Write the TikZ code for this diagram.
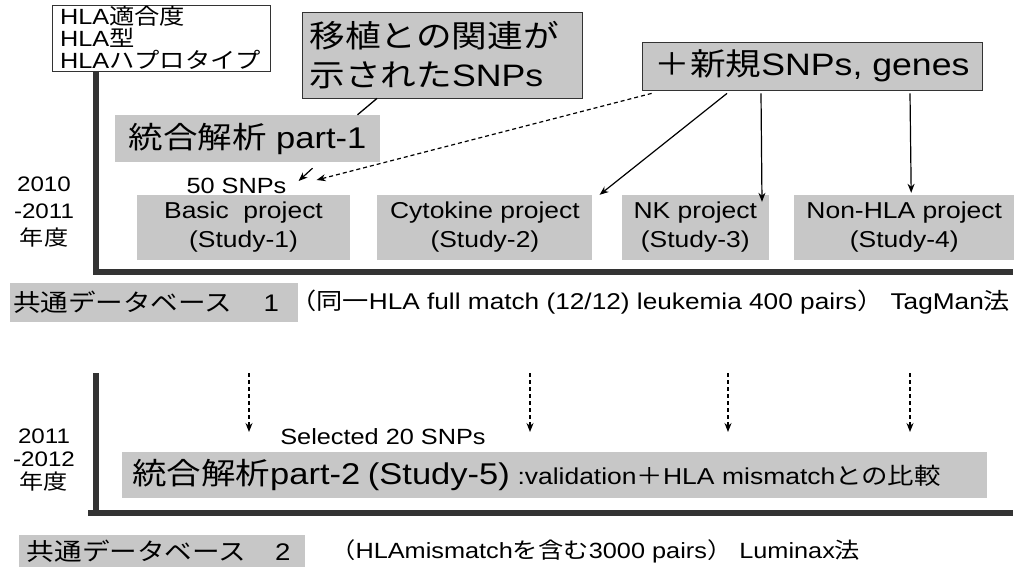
\documentclass[tikz,border=0pt]{standalone}
\usepackage{fontspec}
\setmainfont{Liberation Sans}[FakeStretch=1.15]
\newfontfamily\jp{Noto Sans CJK JP}[FakeStretch=1.15]
\usetikzlibrary{arrows.meta, positioning}

\begin{document}
\begin{tikzpicture}[x=1pt, y=-1pt,
    graybox/.style={rectangle, fill=black!22, inner sep=4pt, align=center},
    framed/.style={graybox, draw=black!80, thick},
    project/.style={graybox, minimum width=213pt, minimum height=65pt, font=\fontsize{23}{29}\selectfont},
    plain/.style={inner sep=0pt, font=\fontsize{22}{26}\selectfont},
    years/.style={inner sep=0pt, align=center, font=\fontsize{21}{27}\selectfont},
    bar/.style={line width=6pt, black!80},
    arrow/.style={-{Stealth[length=9pt,width=7pt]}, line width=1.2pt},
    dasharrow/.style={arrow, dash pattern=on 4pt off 3pt}
]
\useasboundingbox (0,0) rectangle (1028,567);

% Kopf
\node[draw=black!80, thick, fill=white, minimum width=218pt, minimum height=66pt, text width=202pt, align=left, inner sep=0pt, font=\fontsize{22}{22}\selectfont] (hla) at (161,38) {HLA{\jp 適合度}\\HLA{\jp 型}\\HLA{\jp ハプロタイプ}};
\node[framed, minimum width=280pt, minimum height=86pt, text width=265pt, align=left, inner sep=0pt, font=\fontsize{31}{39}\selectfont] (linked) at (442,55) {{\jp 移植との関連が}\\{\jp 示された}SNPs};
\node[framed, minimum width=340pt, minimum height=48pt, font=\fontsize{31}{36}\selectfont] (newsnp) at (812,66) {{\jp ＋新規}SNPs, genes};

% 2010-2011
\node[graybox, minimum width=265pt, minimum height=47pt, font=\fontsize{30}{36}\selectfont] (part1) at (247.5,138.5) {{\jp 統合解析} part-1};
\node[plain] (snp50) at (236.5,186) {50 SNPs};
\node[project] (basic) at (243.5,227.5) {Basic\ \ project\\(Study-1)};
\node[project, minimum width=215pt, right=27pt of basic] (cyto) {Cytokine project\\(Study-2)};
\node[project, minimum width=147pt, right=29pt of cyto] (nk) {NK project\\(Study-3)};
\node[project, minimum width=220pt, right=25pt of nk] (nonhla) {Non-HLA project\\(Study-4)};
\node[years] (yr1) at (44,212.5) {2010\\-2011\\{\jp 年度}};

\draw[bar] (96,71) -- (96,272) -- (1013,272);

\draw[line width=1.3pt] ([xshift=-65pt]linked.south) -- ([xshift=110pt]part1.north);
\draw[arrow] ([xshift=65pt,yshift=-6pt]part1.south) -- ([xshift=12pt,yshift=5pt]snp50.east);
\draw[dasharrow] ([xshift=10pt,yshift=-3pt]newsnp.south west) -- ([xshift=30pt,yshift=6pt]snp50.east);
\draw[arrow] ([xshift=-85pt,yshift=-3pt]newsnp.south) -- ([xshift=7pt]cyto.north east);
\draw[arrow] ([xshift=-51pt,yshift=-3pt]newsnp.south) -- ([xshift=-7pt,yshift=-7pt]nk.north east);
\draw[arrow] ([xshift=98pt,yshift=-3pt]newsnp.south) -- ([xshift=7pt,yshift=2pt]nonhla.north);

% Datenbank 1
\node[graybox, minimum width=288pt, minimum height=39pt, text width=282pt, align=left, inner sep=0pt, font=\fontsize{24}{28}\selectfont] (db1) at (154,302.5) {{\jp 共通データベース}\hspace{1.3em}1};
\node[plain, anchor=west, font=\fontsize{22.8}{26}\selectfont] (db1info) at (290,302.5) {{\jp （同一}HLA full match (12/12) leukemia 400 pairs{\jp ）} TagMan{\jp 法}};

% 2011-2012
\foreach \x [count=\i] in {249,530,728,910} {
  \coordinate (top\i) at (\x,373);
  \coordinate (tip\i) at (\x,432);
  \draw[dasharrow] (top\i) -- (tip\i);
}
\node[plain] (sel20) at (383,437) {Selected 20 SNPs};
\node[graybox, anchor=west, minimum width=865pt, minimum height=46pt, text width=845pt, align=left, inner sep=0pt, font=\fontsize{23}{26}\selectfont] (part2) at (122,475) {{\fontsize{30}{34}\selectfont{\jp 統合解析}part-2 (Study-5)} :validation{\jp ＋}HLA mismatch{\jp との比較}};
\node[years, font=\fontsize{21}{23}\selectfont] (yr2) at (44,460) {2011\\-2012\\{\jp 年度}};

\draw[bar] (96,373) -- (96,513);
\draw[bar] (88,513) -- (1013,513);

% Datenbank 2
\node[graybox, minimum width=286pt, minimum height=32pt, text width=270pt, align=left, inner sep=0pt, font=\fontsize{24}{28}\selectfont] (db2) at (162,551) {{\jp 共通データベース}\hspace{1.2em}2};
\node[plain, anchor=west] (db2info) at (330,551) {{\jp （}HLAmismatch{\jp を含む}3000 pairs{\jp ）} Luminax{\jp 法}};

\end{tikzpicture}
\end{document}
